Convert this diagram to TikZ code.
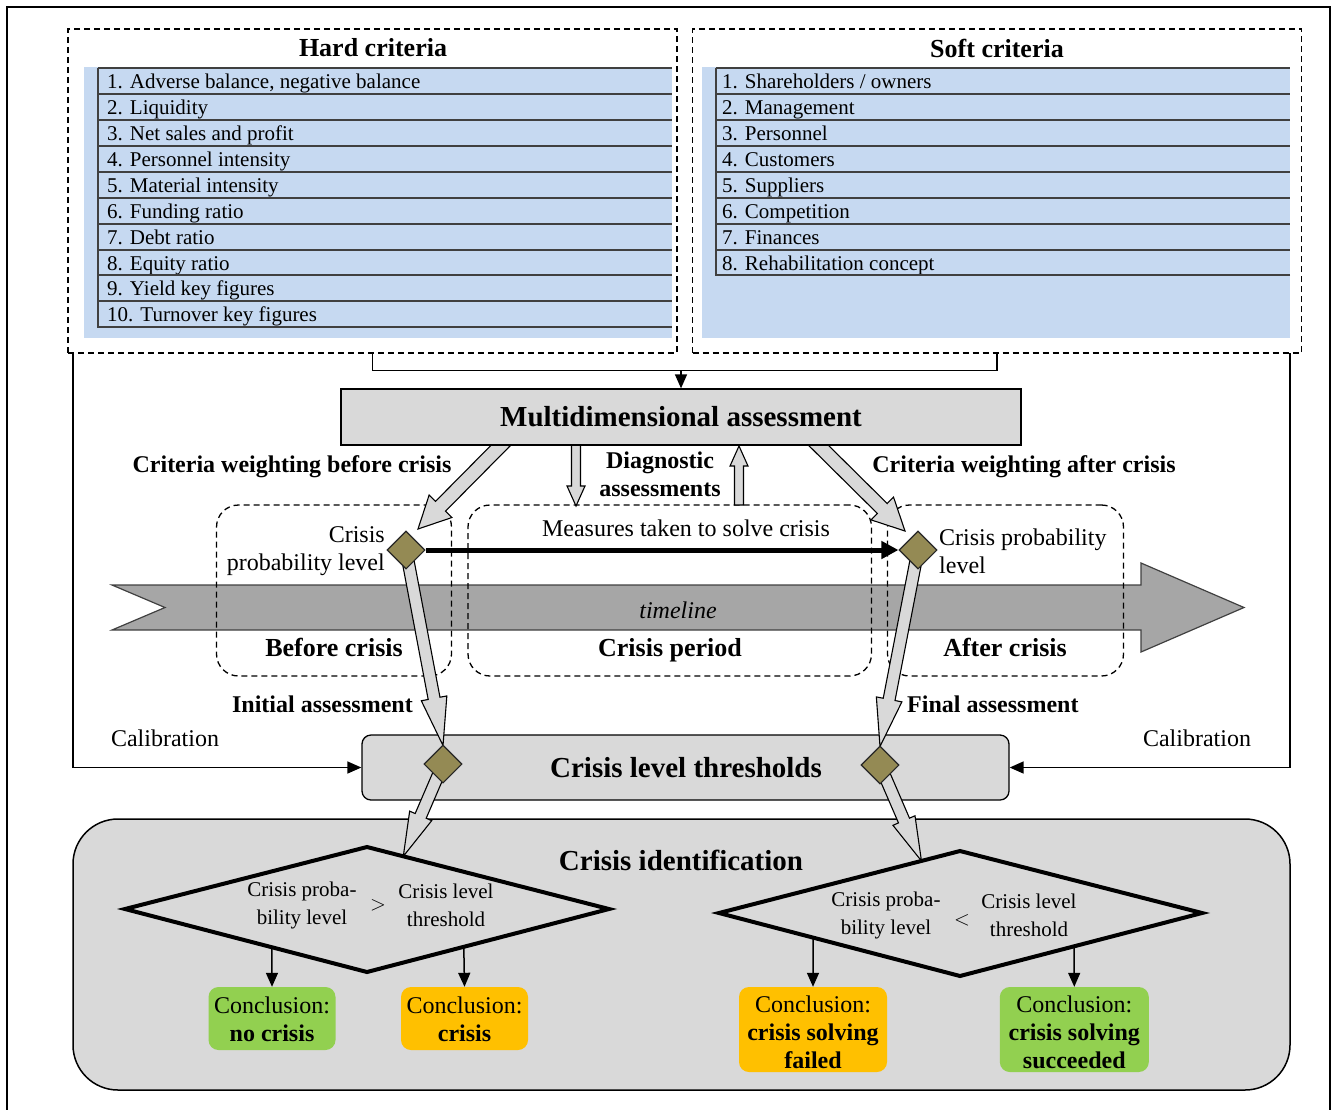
\documentclass[tikz,border=0pt]{standalone}
\usepackage{fontspec}
\setmainfont{Liberation Serif}
\usetikzlibrary{calc,arrows.meta,shapes.geometric}

\definecolor{lblue}{HTML}{C6D9F1}
\definecolor{boxgray}{HTML}{D9D9D9}
\definecolor{tlgray}{HTML}{A6A6A6}
\definecolor{olivec}{HTML}{948A54}
\definecolor{cgreen}{HTML}{92D050}
\definecolor{corange}{HTML}{FFC000}
\definecolor{rowc}{HTML}{404040}

\newcommand\fsreg{\fontsize{24}{28}\selectfont}
\newcommand\fslist{\fontsize{21}{25}\selectfont}
\newcommand\fsttl{\fontsize{26}{30}\selectfont\bfseries}
\newcommand\fsbig{\fontsize{29}{33}\selectfont\bfseries}
\newcommand\fsdia{\fontsize{21}{28}\selectfont}

\newcommand\blockarrow[5]{%
  \coordinate (bahead) at ($(#2)!#5!(#1)$);
  \draw[harrow] ($(#1)!#3!90:(#2)$) -- ($(bahead)!#3!90:(#2)$) -- ($(bahead)!#4!90:(#2)$) -- (#2) -- ($(bahead)!#4!-90:(#2)$) -- ($(bahead)!#3!-90:(#2)$) -- ($(#1)!#3!-90:(#2)$) -- cycle;}

\begin{document}
\begin{tikzpicture}[x=1pt,y=-1pt,
  dbox/.style={draw, dash pattern=on 6pt off 4pt, line width=1.3pt},
  phase/.style={dbox, rounded corners=22pt},
  grayrect/.style={draw, fill=boxgray, line width=1.3pt},
  harrow/.style={draw=black, fill=boxgray, line width=1.1pt, line join=miter},
  odia/.style={diamond, draw=black!85, fill=olivec, line width=1.1pt, minimum width=38pt, minimum height=38pt, inner sep=0pt},
  link/.style={line width=1.5pt, -{Triangle[length=14pt,width=12pt]}},
  concl/.style={rounded corners=10pt, inner sep=0pt},
  ctext/.style={align=center, font=\fsreg, inner sep=0pt},
  decision/.style={draw, fill=boxgray, line width=4pt, line join=miter},
  rowl/.style={draw=rowc, line width=1.4pt},
  lbl/.style={inner sep=0pt, font=\fsreg},
  blbl/.style={inner sep=0pt, font=\fsreg\bfseries}
]
\useasboundingbox (0,0) rectangle (1332,1109);

% outer frame
\draw[line width=1.5pt] (7,1120) -- (7,7) -- (1330,7) -- (1330,1120);

% ---------- Hard criteria ----------
\fill[lblue] (84,67) rectangle (672,338);
\foreach \t/\y [count=\i from 0] in {{1. Adverse balance, negative balance}/68,{2. Liquidity}/94,{3. Net sales and profit}/120,{4. Personnel intensity}/146,{5. Material intensity}/172,{6. Funding ratio}/198,{7. Debt ratio}/224,{8. Equity ratio}/250,{9. Yield key figures}/275,{10. Turnover key figures}/301} {
  \draw[rowl] (98,\y) -- (672,\y);
  \node[anchor=base west, font=\fslist, inner sep=0pt] (h\i) at (107,{\y+20}) {\t};
}
\draw[rowl] (672,327) -- (98,327) -- (98,68);
\node[dbox, minimum width=609pt, minimum height=324pt] (hard) at (372.5,191) {};
\node[font=\fsttl, inner sep=0pt] (hardt) at (373,48) {Hard criteria};

% ---------- Soft criteria ----------
\fill[lblue] (702,67) rectangle (1290,338);
\foreach \t/\y [count=\i from 0] in {{1. Shareholders / owners}/68,{2. Management}/94,{3. Personnel}/120,{4. Customers}/146,{5. Suppliers}/172,{6. Competition}/198,{7. Finances}/224,{8. Rehabilitation concept}/250} {
  \draw[rowl] (716,\y) -- (1290,\y);
  \node[anchor=base west, font=\fslist, inner sep=0pt] (s\i) at (722,{\y+20}) {\t};
}
\draw[rowl] (1290,275) -- (716,275) -- (716,68);
\node[dbox, minimum width=609pt, minimum height=324pt] (soft) at (997,191) {};
\node[font=\fsttl, inner sep=0pt] (softt) at (997,48) {Soft criteria};

% ---------- Timeline ----------
\draw[fill=tlgray, draw=black!75, line width=1.2pt] (112,585) -- (1141,585) -- (1141,563) -- (1244,607.5) -- (1141,652) -- (1141,630) -- (112,630) -- (165,607.5) -- cycle;
\node[lbl, font=\fsreg\itshape] (tl) at (678,610) {timeline};

% phases
\node[phase, minimum width=235pt, minimum height=171pt] (bef) at (334,590.5) {};
\node[phase, minimum width=403.5pt, minimum height=171pt] (per) at (669.75,590.5) {};
\node[phase, minimum width=236pt, minimum height=171pt] (aft) at (1005.5,590.5) {};

% ---------- Multidimensional assessment ----------
\coordinate (a1s) at (514,432); \coordinate (a1t) at (418,529);
\blockarrow{a1s}{a1t}{7pt}{16pt}{32pt}
\coordinate (a2s) at (805,432); \coordinate (a2t) at (905,531);
\blockarrow{a2s}{a2t}{7pt}{16pt}{32pt}
\coordinate (g1s) at (576,440); \coordinate (g1t) at (576,506);
\blockarrow{g1s}{g1t}{4.5pt}{9pt}{20pt}

\node[grayrect, minimum width=680pt, minimum height=56pt, font=\fsbig] (md) at (681,417) {Multidimensional assessment};

\coordinate (g2s) at (739,505); \coordinate (g2t) at (739,446);
\blockarrow{g2s}{g2t}{4.5pt}{9pt}{20pt}

% stems
\coordinate (join) at ($(md.north)+(0,-18)$);
\draw[line width=1.5pt] (hard.south) |- (join) -| (soft.south);
\draw[link] (join) -- (md.north);

% ---------- Crisis level thresholds ----------
\node[grayrect, rounded corners=9pt, minimum width=647pt, minimum height=65pt] (clt) at (685.5,767.5) {};
\node[font=\fsbig, inner sep=0pt] (cltt) at (686,768) {Crisis level thresholds};

% calibration
\coordinate (cal1) at (73,353);
\coordinate (cal2) at (1290,353);
\draw[link] (cal1) |- (clt.west);
\draw[link] (cal2) |- (clt.east);
\node[lbl] (calt1) at (165,738) {Calibration};
\node[lbl] (calt2) at (1197,738) {Calibration};

% ---------- Crisis identification ----------
\node[draw, fill=boxgray, line width=1.5pt, rounded corners=45pt, minimum width=1217pt, minimum height=271pt] (cid) at (681.5,954.5) {};
\node[font=\fsbig, inner sep=0pt] (cidt) at (681,860) {Crisis identification};

\coordinate (d1w) at (125,909); \coordinate (d1n) at (367,847);
\coordinate (d1e) at (609,909); \coordinate (d1s) at (367,972);
\coordinate (d2w) at (719,913); \coordinate (d2n) at (960,851);
\coordinate (d2e) at (1202,913); \coordinate (d2s) at (960,976);
\draw[decision] (d1w) -- (d1n) -- (d1e) -- (d1s) -- cycle;
\draw[decision] (d2w) -- (d2n) -- (d2e) -- (d2s) -- cycle;

\node[inner sep=0pt, font=\fsdia, align=center] (t1a) at (302,905) {Crisis proba-\\bility level};
\node[inner sep=0pt, font=\fsdia] (t1b) at (378,905) {$>$};
\node[inner sep=0pt, font=\fsdia, align=center] (t1c) at (446,905) {Crisis level\\threshold};
\node[inner sep=0pt, font=\fsdia, align=center] (t2a) at (886,915) {Crisis proba-\\bility level};
\node[inner sep=0pt, font=\fsdia] (t2b) at (962,920) {$<$};
\node[inner sep=0pt, font=\fsdia, align=center] (t2c) at (1029,915) {Crisis level\\threshold};

% ---------- diamonds and assessment arrows ----------
\coordinate (pA) at (406,550); \coordinate (pB) at (918,550);
\coordinate (pC) at (443,764); \coordinate (pD) at (880,765);
\coordinate (tC) at (443,745.5); \coordinate (tD) at (880,746.5);
\blockarrow{pA}{tC}{6pt}{13pt}{48pt}
\blockarrow{pB}{tD}{6pt}{13pt}{48pt}
\coordinate (e1) at ($(d1n)!0.15!(d1e)$);
\coordinate (e2) at ($(d2n)!0.16!(d2w)$);
\blockarrow{pC}{e1}{6pt}{12pt}{44pt}
\blockarrow{pD}{e2}{6pt}{12pt}{44pt}

\node[odia] (dA) at (pA) {};
\node[odia] (dB) at (pB) {};
\node[odia] (dC) at (pC) {};
\node[odia] (dD) at (pD) {};

\draw[line width=5pt, -{Triangle[length=17pt,width=17pt]}] (dA.east) -- (dB.west);

% ---------- labels ----------
\node[blbl] (cwb) at (292,467) {Criteria weighting before crisis};
\node[blbl] (cwa) at (1024,467) {Criteria weighting after crisis};
\node[blbl, align=center] (diag) at (660,474) {Diagnostic\\assessments};
\node[lbl] (meas) at (686,528) {Measures taken to solve crisis};
\node[lbl, anchor=east, align=right] (cpl1) at (385,551) {Crisis\\probability level};
\node[lbl, anchor=west, align=left] (cpl2) at (939,551) {Crisis probability\\level};
\node[font=\fsttl, inner sep=0pt, anchor=base] (befl) at (334,656) {Before crisis};
\node[font=\fsttl, inner sep=0pt, anchor=base] (perl) at (670,656) {Crisis period};
\node[font=\fsttl, inner sep=0pt, anchor=base] (aftl) at (1005,656) {After crisis};
\node[blbl, anchor=east] (ini) at (413,704) {Initial assessment};
\node[blbl, anchor=west] (fin) at (907,704) {Final assessment};

% ---------- conclusions ----------
\node[concl, fill=cgreen, minimum width=127pt, minimum height=63pt] (c1) at (272,1018.5) {};
\node[concl, fill=corange, minimum width=127pt, minimum height=63pt] (c2) at (464.5,1018.5) {};
\node[concl, fill=corange, minimum width=148pt, minimum height=85pt] (c3) at (813,1029.5) {};
\node[concl, fill=cgreen, minimum width=149pt, minimum height=85pt] (c4) at (1074.3,1029.5) {};
\node[ctext] (c1t) at ($(c1.center)+(0,1)$) {Conclusion:\\\textbf{no crisis}};
\node[ctext] (c2t) at ($(c2.center)+(0,1)$) {Conclusion:\\\textbf{crisis}};
\node[ctext] (c3t) at ($(c3.center)+(0,3)$) {Conclusion:\\\textbf{crisis solving}\\\textbf{failed}};
\node[ctext] (c4t) at ($(c4.center)+(0,3)$) {Conclusion:\\\textbf{crisis solving}\\\textbf{succeeded}};

\draw[link] ($(d1w)!0.607!(d1s)$) -- (c1.north);
\draw[link] ($(d1s)!0.40!(d1e)$) -- (c2.north);
\draw[link] ($(d2w)!0.39!(d2s)$) -- (c3.north);
\draw[link] ($(d2s)!0.471!(d2e)$) -- (c4.north);

\end{tikzpicture}
\end{document}
